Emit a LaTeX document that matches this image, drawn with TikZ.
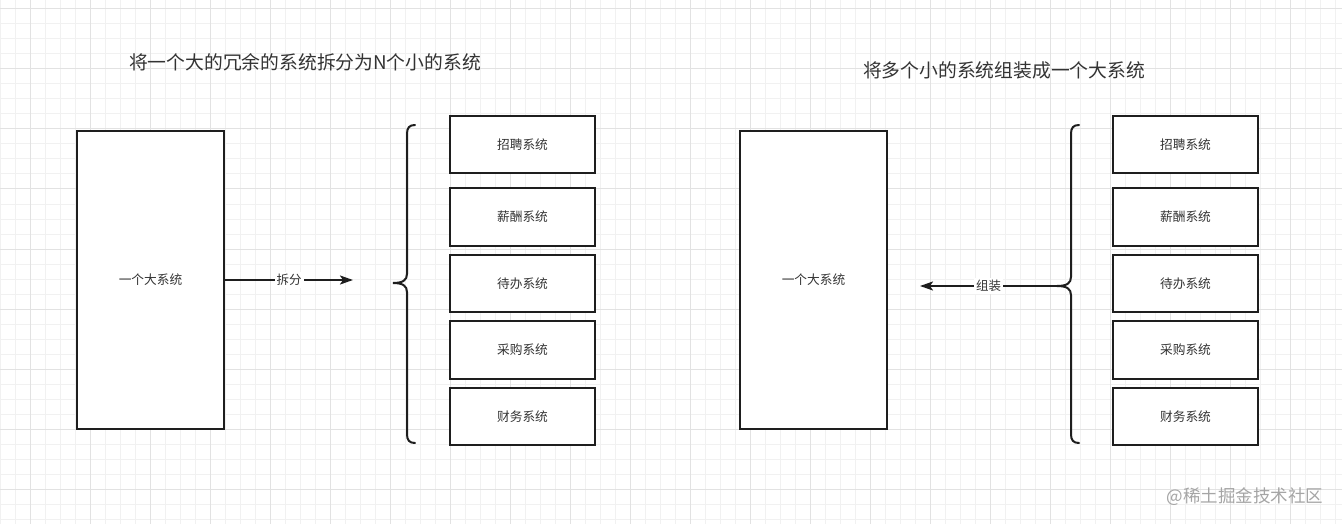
\documentclass[tikz,border=0pt]{standalone}
\usepackage{fontspec}
\setmainfont{Noto Sans CJK SC}
\usetikzlibrary{positioning,arrows.meta}
\definecolor{GridMinor}{RGB}{241,241,241}
\definecolor{GridMajor}{RGB}{226,226,226}
\definecolor{InkDark}{RGB}{30,30,30}
\definecolor{TextGray}{RGB}{51,51,51}
\definecolor{MarkGray}{RGB}{165,165,165}

\begin{document}
\begin{tikzpicture}[
    x=1pt, y=-1pt,
    node distance=7pt,
    bigsys/.style={rectangle, draw=InkDark, line width=2pt, fill=white, minimum width=147pt, minimum height=298pt, text=TextGray, font=\fontsize{12.7}{15}\selectfont},
    subsys/.style={rectangle, draw=InkDark, line width=2pt, fill=white, minimum width=145pt, minimum height=57.5pt, text=TextGray, font=\fontsize{12.7}{15}\selectfont},
    heading/.style={text=TextGray, font=\fontsize{18.8}{22}\selectfont},
    edgelabel/.style={fill=white, text=TextGray, inner sep=2pt, font=\fontsize{12.5}{15}\selectfont},
    arrow/.style={-{Stealth[length=13pt, width=9pt, inset=3pt]}, line width=2pt, draw=InkDark},
    bracket/.style={line width=2pt, draw=InkDark, line cap=round}
]
\useasboundingbox (0,0) rectangle (1342,524);
% grid paper
\fill[white] (0,0) rectangle (1342,524);
\foreach \gx in {0,15,...,1335} \draw[GridMinor, line width=1pt] (\gx,0) -- (\gx,524);
\foreach \gy in {9,24,...,519} \draw[GridMinor, line width=1pt] (0,\gy) -- (1342,\gy);
\foreach \gx in {30,90,...,1290} \draw[GridMajor, line width=1pt] (\gx,0) -- (\gx,524);
\foreach \gy in {9,69,...,489} \draw[GridMajor, line width=1pt] (0,\gy) -- (1342,\gy);

% split
\node[heading] (splitTitle) at (305,62) {将一个大的冗余的系统拆分为N个小的系统};
\node[bigsys] (bigL) at (150.5,280) {一个大系统};
\node[subsys] (hireL) at (522.5,144.5) {招聘系统};
\node[subsys, below=13pt of hireL] (payL) {薪酬系统};
\node[subsys, below=of payL] (todoL) {待办系统};
\node[subsys, below=of todoL] (buyL) {采购系统};
\node[subsys, below=of buyL] (finL) {财务系统};
\coordinate (splitEnd) at (353,280);
\coordinate (braceL) at (393,283);
\draw[arrow] (bigL.east |- splitEnd) -- node[edgelabel] (splitLabel) {拆分} (splitEnd);
\draw[bracket] (415,125) .. controls (409,125) and (407,128) .. (407,134) -- (407,274)
    .. controls (407,280) and (403,283) .. (braceL)
    .. controls (403,283) and (407,286) .. (407,292) -- (407,434)
    .. controls (407,440) and (409,443) .. (415,443);

% join
\node[heading] (joinTitle) at (1004,70) {将多个小的系统组装成一个大系统};
\node[bigsys] (bigR) at (813.5,280) {一个大系统};
\node[subsys] (hireR) at (1185.5,144.5) {招聘系统};
\node[subsys, below=13pt of hireR] (payR) {薪酬系统};
\node[subsys, below=of payR] (todoR) {待办系统};
\node[subsys, below=of todoR] (buyR) {采购系统};
\node[subsys, below=of buyR] (finR) {财务系统};
\coordinate (braceR) at (1057,286);
\coordinate (joinEnd) at (920,286);
\draw[arrow] (braceR) -- node[edgelabel] (joinLabel) {组装} (joinEnd);
\draw[bracket] (1079,125) .. controls (1073,125) and (1071,128) .. (1071,134) -- (1071,277)
    .. controls (1071,283) and (1067,286) .. (braceR)
    .. controls (1067,286) and (1071,289) .. (1071,295) -- (1071,434)
    .. controls (1071,440) and (1073,443) .. (1079,443);

\node[text=MarkGray, font=\fontsize{17.5}{20}\selectfont] (mark) at (1245,497) {@稀土掘金技术社区};
\end{tikzpicture}
\end{document}
